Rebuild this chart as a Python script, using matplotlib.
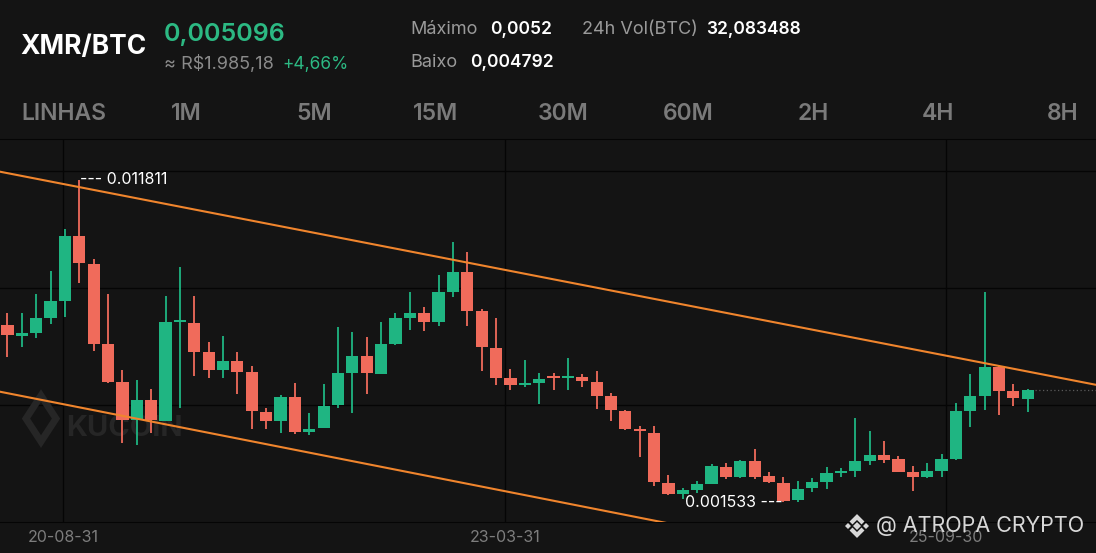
import numpy as np
import matplotlib
matplotlib.use("Agg")
import matplotlib.pyplot as plt
from matplotlib.patches import Polygon

plt.rcParams['font.family'] = ['Inter', 'DejaVu Sans']

# monthly XMR/BTC candles
opens = [0.007174, 0.006833, 0.006910, 0.007407, 0.007949, 0.010020, 0.009118, 0.006569,
         0.005358, 0.004147, 0.004784, 0.004124, 0.007270, 0.007248, 0.006314, 0.005740,
         0.006027, 0.005667, 0.004411, 0.004124, 0.004889, 0.003755, 0.003882, 0.004625,
         0.005635, 0.006196, 0.005613, 0.006569, 0.007388, 0.007547, 0.007260, 0.008236,
         0.008854, 0.007630, 0.006454, 0.005476, 0.005252, 0.005316, 0.005533, 0.005476,
         0.005527, 0.005367, 0.004921, 0.004433, 0.003850, 0.003723, 0.002139, 0.001779,
         0.001916, 0.002107, 0.002649, 0.002321, 0.002840, 0.002362, 0.002148, 0.001597,
         0.001970, 0.002180, 0.002467, 0.002521, 0.002840, 0.003031, 0.002894, 0.002499,
         0.002340, 0.002531, 0.002904, 0.004433, 0.004921, 0.005845, 0.005071, 0.004816]
highs = [0.007547, 0.007566, 0.008162, 0.008905, 0.010224, 0.011811, 0.009268, 0.008162,
         0.005740, 0.005421, 0.005125, 0.008098, 0.009032, 0.008098, 0.006642, 0.006824,
         0.006304, 0.005877, 0.004520, 0.004943, 0.005335, 0.004379, 0.005294, 0.007120,
         0.006942, 0.006801, 0.007279, 0.007547, 0.008216, 0.007757, 0.008768, 0.009829,
         0.009491, 0.007684, 0.007388, 0.005762, 0.006059, 0.005635, 0.005635, 0.006113,
         0.005603, 0.005699, 0.004998, 0.004465, 0.003955, 0.003962, 0.002403, 0.001979,
         0.002203, 0.002744, 0.002776, 0.002872, 0.003222, 0.002499, 0.002321, 0.002203,
         0.002289, 0.002658, 0.002607, 0.004220, 0.003805, 0.003487, 0.002999, 0.002681,
         0.002767, 0.003063, 0.004698, 0.005603, 0.008216, 0.005899, 0.005294, 0.005135]
lows = [0.006164, 0.006483, 0.006770, 0.007206, 0.007420, 0.008503, 0.006355, 0.005316,
        0.003404, 0.003350, 0.003723, 0.004124, 0.004520, 0.005558, 0.005476, 0.005495,
        0.004975, 0.003850, 0.003850, 0.003742, 0.003700, 0.003669, 0.003882, 0.004520,
        0.004379, 0.004975, 0.005603, 0.006537, 0.007015, 0.006983, 0.007142, 0.008076,
        0.007142, 0.005708, 0.005262, 0.005103, 0.005208, 0.004657, 0.005103, 0.005103,
        0.005208, 0.004497, 0.004121, 0.003818, 0.002977, 0.002059, 0.001756, 0.001638,
        0.001836, 0.002107, 0.002276, 0.002289, 0.002257, 0.002129, 0.001533, 0.001543,
        0.001842, 0.001948, 0.002321, 0.002321, 0.002712, 0.002767, 0.002499, 0.001893,
        0.002289, 0.002321, 0.002872, 0.003914, 0.004465, 0.004306, 0.004602, 0.004392]
closes = [0.006856, 0.006910, 0.007407, 0.007949, 0.010020, 0.009141, 0.006569, 0.005358,
          0.004147, 0.004784, 0.004147, 0.007260, 0.007311, 0.006323, 0.005740, 0.006027,
          0.005686, 0.004433, 0.004124, 0.004889, 0.003774, 0.003860, 0.004602, 0.005635,
          0.006196, 0.005635, 0.006569, 0.007388, 0.007547, 0.007260, 0.008216, 0.008854,
          0.007630, 0.006464, 0.005495, 0.005262, 0.005316, 0.005463, 0.005492, 0.005527,
          0.005399, 0.004921, 0.004456, 0.003850, 0.003796, 0.002155, 0.001779, 0.001916,
          0.002101, 0.002681, 0.002340, 0.002840, 0.002340, 0.002161, 0.001575, 0.001948,
          0.002180, 0.002467, 0.002531, 0.002840, 0.003031, 0.002872, 0.002499, 0.002340,
          0.002531, 0.002904, 0.004433, 0.004921, 0.005826, 0.005080, 0.004838, 0.005096]

date_ticks = [3.86, 34.62, 65.31]
date_labels = ['20-08-31', '23-03-31', '25-09-30']
grid_prices = [0.012082, 0.008353, 0.004625]

# channel drawn on the chart: (candle index, price) end points
upper_x, upper_p = [-0.52, 75.75], [0.01206, 0.005268]
lower_x, lower_p = [-0.52, 75.75], [0.005048, -0.001832]

high_label, low_label = '0.011811', '0.001533'

tabs = ['LINHAS', '1M', '5M', '15M', '30M', '60M', '2H', '4H', '8H']
tab_x = [21, 171, 296, 413, 538, 663, 798, 922, 1047]

W, H = 1096, 553
bg = '#141414'
green = '#1fb582'
red = '#f06b5b'
orange = '#f0852d'

fig = plt.figure(figsize=(W / 100, H / 100), dpi=100, facecolor=bg)


def px(x, y):
    return x / W, 1 - y / H


ax = fig.add_axes([0, 31 / H, 1, (522 - 139) / H])
ax.set_facecolor(bg)

o = np.array(opens)
h = np.array(highs)
l = np.array(lows)
c = np.array(closes)
idx = np.arange(len(o))
up = c >= o
cols = np.where(up, green, red)

ax.vlines(idx, l, h, colors=cols, lw=1.3, zorder=3)
body_lo = np.minimum(o, c)
body_h = np.maximum(np.abs(c - o), 0.00006)
ax.bar(idx, body_h, bottom=body_lo, width=0.85, color=cols, zorder=4, linewidth=0)

ax.plot(upper_x, upper_p, color=orange, lw=1.5, zorder=5)
ax.plot(lower_x, lower_p, color=orange, lw=1.5, zorder=5)

# last price dotted line
ax.plot([idx[-1] + 0.5, 80], [c[-1], c[-1]], color='#5a5a5a', lw=0.9, ls=(0, (1, 2)), zorder=2)

for g in grid_prices:
    ax.axhline(g, color='#050505', lw=1.0, zorder=1)
for t in date_ticks:
    ax.axvline(t, color='#050505', lw=1.0, zorder=1)

ax.set_xlim(-0.52, 75.75)
ax.set_ylim(0.000896, 0.013102)
ax.set_xticks([])
ax.set_yticks([])
for s in ['left', 'right']:
    ax.spines[s].set_visible(False)
ax.spines['top'].set_color('#050505')
ax.spines['bottom'].set_color('#050505')

# kucoin watermark
ax.text(66 / W, 1 - (428 - 139) / (522 - 139), 'KUCOIN', transform=ax.transAxes,
        color='#262626', fontsize=21, fontweight='bold', va='center', ha='left', zorder=2)
ax.add_patch(Polygon([(26 / W, 0.27), (41 / W, 0.33), (56 / W, 0.27), (41 / W, 0.21)],
                     closed=True, transform=ax.transAxes, fill=False, ec='#262626', lw=5, zorder=2))

hi_i = int(np.argmax(h))
lo_i = int(np.argmin(l))
ax.text(hi_i + 0.05, h[hi_i], '--- ' + high_label, color='white', fontsize=11.5, va='center', ha='left', zorder=6)
ax.text(lo_i - 0.05, l[lo_i], low_label + ' ---', color='white', fontsize=11.5, va='center', ha='right', zorder=6)

for t, lab in zip(date_ticks, date_labels):
    xf = ax.transData.transform((t, 0))[0] / W
    fig.text(xf, 1 - 537 / H, lab, color='#7d7d7d', fontsize=11.5, ha='center', va='center')

# header
fig.text(*px(20, 47), 'XMR/BTC', color='white', fontsize=19, fontweight='bold', va='center')
fig.text(*px(164, 35), '0,005096', color='#2cb983', fontsize=18, fontweight='semibold', va='center')
fig.text(*px(164, 64), '≈ R$1.985,18', color='#8a8a8a', fontsize=13, va='center')
fig.text(*px(282, 64), '+4,66%', color='#2cb983', fontsize=12.5, va='center')
fig.text(*px(410, 30), 'Máximo', color='#9a9a9a', fontsize=13, va='center')
fig.text(*px(490, 30), '0,0052', color='white', fontsize=12.5, fontweight='semibold', va='center')
fig.text(*px(410, 63), 'Baixo', color='#9a9a9a', fontsize=13, va='center')
fig.text(*px(470, 63), '0,004792', color='white', fontsize=12.5, fontweight='semibold', va='center')
fig.text(*px(582, 30), '24h Vol(BTC)', color='#9a9a9a', fontsize=13, va='center')
fig.text(*px(706, 30), '32,083488', color='white', fontsize=12.5, fontweight='semibold', va='center')

for t, x in zip(tabs, tab_x):
    fig.text(*px(x, 114), t, color='#7a7a7a', fontsize=16.5, fontweight='semibold', va='center')

# atropa watermark
fig.text(*px(876, 526), '@ ATROPA CRYPTO', color='#d8d8d8', fontsize=15.5, va='center', zorder=10)
cx, cy = 857, 526
for dx, dy, r in [(0, 0, 4), (-9, 0, 3), (9, 0, 3)]:
    pts = [px(cx + dx - r, cy + dy), px(cx + dx, cy + dy - r), px(cx + dx + r, cy + dy), px(cx + dx, cy + dy + r)]
    fig.patches.append(Polygon(pts, closed=True, transform=fig.transFigure, fc='#d8d8d8', ec='none'))
for sgn in [-1, 1]:
    pts = [px(cx - 6, cy + sgn * 3), px(cx, cy + sgn * 9), px(cx + 6, cy + sgn * 3)]
    fig.patches.append(Polygon(pts, closed=False, transform=fig.transFigure, fill=False, ec='#d8d8d8', lw=3))

fig.savefig('out.png', dpi=100, facecolor=bg)
